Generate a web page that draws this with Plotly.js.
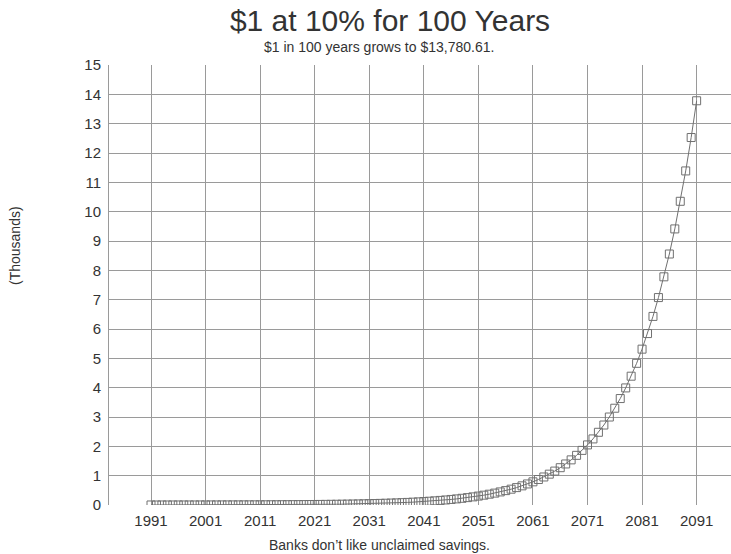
<!DOCTYPE html>
<html>
<head>
<meta charset="utf-8">
<script src="https://cdn.plot.ly/plotly-3.0.1.min.js"></script>
<style>html,body{margin:0;padding:0;background:#fff;}#chart{width:731px;height:554px;}</style>
</head>
<body>
<div id="chart"></div>
<script>
const years = [1991,1992,1993,1994,1995,1996,1997,1998,1999,2000,
2001,2002,2003,2004,2005,2006,2007,2008,2009,2010,
2011,2012,2013,2014,2015,2016,2017,2018,2019,2020,
2021,2022,2023,2024,2025,2026,2027,2028,2029,2030,
2031,2032,2033,2034,2035,2036,2037,2038,2039,2040,
2041,2042,2043,2044,2045,2046,2047,2048,2049,2050,
2051,2052,2053,2054,2055,2056,2057,2058,2059,2060,
2061,2062,2063,2064,2065,2066,2067,2068,2069,2070,
2071,2072,2073,2074,2075,2076,2077,2078,2079,2080,
2081,2082,2083,2084,2085,2086,2087,2088,2089,2090,
2091];
// balance in thousands of dollars
const balanceThousands = [0.0010,0.0011,0.0012,0.0013,0.0015,0.0016,0.0018,0.0019,0.0021,0.0024,
0.0026,0.0029,0.0031,0.0035,0.0038,0.0042,0.0046,0.0051,0.0056,0.0061,
0.0067,0.0074,0.0081,0.0090,0.0098,0.0108,0.0119,0.0131,0.0144,0.0159,
0.0174,0.0192,0.0211,0.0232,0.0255,0.0281,0.0309,0.0340,0.0374,0.0411,
0.0453,0.0498,0.0548,0.0602,0.0663,0.0729,0.0802,0.0882,0.0970,0.1067,
0.1174,0.1291,0.1420,0.1562,0.1719,0.1891,0.2080,0.2288,0.2516,0.2768,
0.3045,0.3349,0.3684,0.4053,0.4458,0.4904,0.5394,0.5933,0.6527,0.7180,
0.7897,0.8687,0.9556,1.0512,1.1563,1.2719,1.3991,1.5390,1.6929,1.8622,
2.0484,2.2532,2.4786,2.7264,2.9991,3.2990,3.6289,3.9918,4.3909,4.8300,
5.3130,5.8443,6.4288,7.0716,7.7788,8.5567,9.4123,10.3536,11.3889,12.5278,
13.7806];
const xTickVals = [1991,2001,2011,2021,2031,2041,2051,2061,2071,2081,2091];
const yTickVals = [0,1,2,3,4,5,6,7,8,9,10,11,12,13,14,15];

const titleText = "$1 at 10% for 100 Years";
const subtitleText = "$1 in 100 years grows to $13,780.61.";
const xTitleText = "Banks don\u2019t like unclaimed savings.";
const yTitleText = "(Thousands)";

const font = "Liberation Sans, Arial, sans-serif";
const txt = "#333333";

Plotly.newPlot("chart", [{
  x: years, y: balanceThousands, type: "scatter", mode: "lines+markers",
  line: {color: "#707070", width: 1},
  marker: {symbol: "square-open", size: 8, color: "#707070", line: {width: 1, color: "#707070"}},
  hoverinfo: "x+y"
}], {
  width: 731, height: 554,
  margin: {l: 109, r: 0, t: 65, b: 49, pad: 0},
  paper_bgcolor: "#fff", plot_bgcolor: "#fff",
  showlegend: false,
  font: {family: font, color: txt, size: 15},
  title: {text: titleText, font: {family: font, size: 30, color: txt}, x: 390/731, xanchor: "center", y: 1 - 20/554, yanchor: "middle", yref: "container"},
  xaxis: {
    range: [1983.3, 2097.3], tickvals: xTickVals, ticktext: xTickVals.map(String),
    showgrid: true, gridcolor: "#9a9a9a", gridwidth: 1, zeroline: false,
    showline: false, ticks: "outside", ticklen: 2, tickcolor: "rgba(0,0,0,0)",
    tickfont: {family: font, size: 15, color: txt}
  },
  yaxis: {
    range: [0, 15], tickvals: yTickVals, ticktext: yTickVals.map(String),
    showgrid: true, gridcolor: "#9a9a9a", gridwidth: 1, zeroline: false,
    showline: true, linecolor: "#9a9a9a", linewidth: 1,
    ticks: "outside", ticklen: 4, tickcolor: "rgba(0,0,0,0)",
    tickfont: {family: font, size: 15, color: txt}
  },
  annotations: [
    {text: subtitleText, xref: "paper", yref: "paper", x: (379-109)/622, y: 1 + (65-47)/440, xanchor: "center", yanchor: "middle", showarrow: false, font: {family: font, size: 14, color: txt}},
    {text: xTitleText, xref: "paper", yref: "paper", x: (379-109)/622, y: -(545-505)/440, xanchor: "center", yanchor: "middle", showarrow: false, font: {family: font, size: 14, color: txt}},
    {text: yTitleText, xref: "paper", yref: "paper", x: -(109-15)/622, y: (505-246)/440, xanchor: "center", yanchor: "middle", textangle: -90, showarrow: false, font: {family: font, size: 14, color: txt}}
  ]
}, {staticPlot: true, displayModeBar: false});
</script>
</body>
</html>
